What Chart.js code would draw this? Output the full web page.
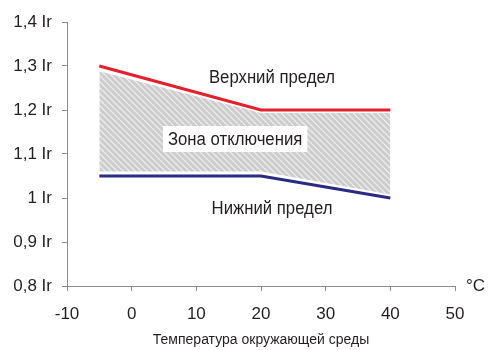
<!DOCTYPE html>
<html lang="ru">
<head>
  <meta charset="utf-8">
  <title>Зона отключения</title>
  <script src="https://cdn.jsdelivr.net/npm/chart.js"></script>
  <style>
    html, body { margin: 0; padding: 0; background: #fff; }
    #wrap { width: 490px; height: 350px; }
  </style>
</head>
<body>
  <div id="wrap"><canvas id="myChart"></canvas></div>

  <script>
    // данные
    const temps = [-5, 20, 40];
    const upperLimit = [1.3, 1.2, 1.2];
    const lowerLimit = [1.05, 1.05, 1.0];
    // заштрихованная зона чуть отступает от линий
    const zoneTop = [1.288, 1.193, 1.193];
    const zoneBottom = [1.06, 1.06, 1.008];

    const xTicks = [-10, 0, 10, 20, 30, 40, 50];
    const yTicks = [0.8, 0.9, 1.0, 1.1, 1.2, 1.3, 1.4];
    const yTickLabels = ['0,8 Ir', '0,9 Ir', '1 Ir', '1,1 Ir', '1,2 Ir', '1,3 Ir', '1,4 Ir'];

    const notes = [
      { text: 'Верхний предел', x: 21.7, y: 1.275, box: false },
      { text: 'Зона отключения', x: 16, y: 1.134, box: true },
      { text: 'Нижний предел', x: 21.7, y: 0.977, box: false }
    ];

    const narrow = "'Liberation Sans Narrow', 'Arial Narrow', 'Liberation Sans', Arial, sans-serif";
    const regular = "'Liberation Sans', Arial, sans-serif";

    function pts(ys) {
      return temps.map((t, i) => ({ x: t, y: ys[i] }));
    }

    // штриховка серым
    function hatch() {
      var c = document.createElement('canvas');
      c.width = 6; c.height = 6;
      var g = c.getContext('2d');
      g.fillStyle = '#cdcdcd';
      g.fillRect(0, 0, 6, 6);
      g.strokeStyle = 'rgba(255,255,255,0.7)';
      g.lineWidth = 1.2;
      g.beginPath();
      g.moveTo(-1, -1); g.lineTo(7, 7);
      g.moveTo(-4, 2); g.lineTo(2, 8);
      g.moveTo(2, -4); g.lineTo(8, 2);
      g.stroke();
      return g.createPattern(c, 'repeat');
    }

    const labelsPlugin = {
      id: 'labels',
      afterDatasetsDraw(chart) {
        const ctx = chart.ctx;
        const xs = chart.scales.x, ys = chart.scales.y;
        const sx = 0.93; // узкий шрифт, как на оригинале
        ctx.save();
        ctx.font = '18px ' + narrow;
        ctx.textAlign = 'center';
        ctx.textBaseline = 'middle';
        notes.forEach(n => {
          const px = xs.getPixelForValue(n.x), py = ys.getPixelForValue(n.y);
          const w = ctx.measureText(n.text).width * sx;
          if (n.box) {
            ctx.fillStyle = '#fff';
            ctx.fillRect(px - w / 2 - 5, py - 13, w + 10, 26);
          }
          ctx.save();
          ctx.translate(px, py);
          ctx.scale(sx, 1);
          ctx.fillStyle = '#231f20';
          ctx.fillText(n.text, 0, 1);
          ctx.restore();
        });
        // единица оси X
        ctx.font = '17px ' + regular;
        ctx.textAlign = 'left';
        ctx.fillStyle = '#231f20';
        ctx.fillText('°C', chart.chartArea.right + 11, ys.getPixelForValue(0.8));
        ctx.restore();
      }
    };

    const data = {
      datasets: [
        {
          data: pts(zoneTop),
          borderWidth: 0,
          pointRadius: 0,
          fill: '+1',
          backgroundColor: hatch()
        },
        {
          data: pts(zoneBottom),
          borderWidth: 0,
          pointRadius: 0,
          fill: false
        },
        {
          data: pts(upperLimit),
          borderColor: '#e51f2b',
          borderWidth: 3,
          pointRadius: 0,
          fill: false
        },
        {
          data: pts(lowerLimit),
          borderColor: '#2b2a86',
          borderWidth: 3,
          pointRadius: 0,
          fill: false
        }
      ]
    };

    const config = {
      type: 'line',
      data: data,
      options: {
        responsive: true,
        maintainAspectRatio: false,
        animation: false,
        layout: { padding: { top: 22, right: 35, left: 0, bottom: 0 } },
        plugins: {
          legend: { display: false },
          tooltip: { enabled: false }
        },
        scales: {
          x: {
            type: 'linear',
            min: -10,
            max: 50,
            afterBuildTicks: s => { s.ticks = xTicks.map(v => ({ value: v })); },
            afterFit: s => { s.height = 64; },
            grid: { drawOnChartArea: false, tickLength: 5, color: '#8c8c8c' },
            border: { color: '#8c8c8c', width: 1 },
            ticks: {
              color: '#231f20',
              font: { family: regular, size: 17 },
              padding: 13,
              maxRotation: 0
            },
            title: {
              display: true,
              text: 'Температура окружающей среды',
              color: '#231f20',
              font: { family: narrow, size: 14 },
              padding: { top: 0, bottom: 1 }
            }
          },
          y: {
            min: 0.8,
            max: 1.4,
            afterBuildTicks: s => { s.ticks = yTicks.map(v => ({ value: v })); },
            afterFit: s => { s.width = 67; },
            grid: { drawOnChartArea: false, tickLength: 5, color: '#8c8c8c' },
            border: { color: '#8c8c8c', width: 1 },
            ticks: {
              color: '#231f20',
              font: { family: regular, size: 17 },
              padding: 10,
              callback: (v) => {
                const i = yTicks.findIndex(t => Math.abs(t - v) < 1e-6);
                return i >= 0 ? yTickLabels[i] : '';
              }
            }
          }
        }
      },
      plugins: [labelsPlugin]
    };

    new Chart(document.getElementById('myChart'), config);
  </script>
</body>
</html>
